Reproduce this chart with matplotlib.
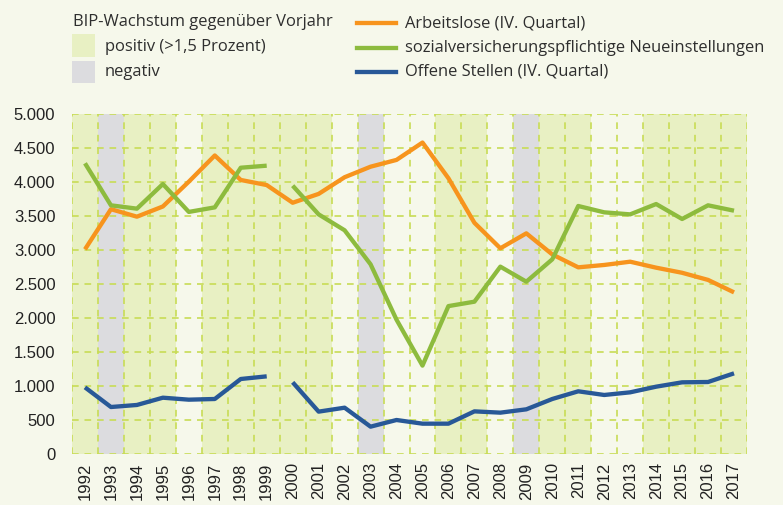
import numpy as np
import matplotlib
matplotlib.use("Agg")
import matplotlib.pyplot as plt
from matplotlib.patches import Rectangle
from matplotlib.lines import Line2D

years = list(range(1992, 2018))
# GDP growth classification: 'p' positive (>1.5%), 'n' negative, '' other
bip = ['p', 'n', 'p', 'p', '', 'p', 'p', 'p', 'p', 'p', '', 'n', '', '',
       'p', 'p', '', 'n', 'p', 'p', '', '', 'p', 'p', 'p', 'p']

arbeitslose = [3010, 3600, 3490, 3640, 4005, 4390, 4030, 3955, 3695, 3825,
               4070, 4225, 4325, 4580, 4055, 3400, 3025, 3245, 2935, 2745,
               2780, 2828, 2740, 2665, 2560, 2377]
neueinst = [4275, 3657, 3608, 3970, 3560, 3627, 4210, 4240, 3946, 3524,
            3290, 2790, 1975, 1300, 2175, 2240, 2755, 2534, 2863, 3647,
            3554, 3524, 3676, 3456, 3657, 3578]
offene = [980, 691, 721, 828, 799, 809, 1103, 1142, 1054, 623,
          681, 402, 500, 446, 446, 627, 608, 657, 809, 922,
          868, 907, 990, 1054, 1059, 1186]

yticks = list(range(0, 5001, 500))
ytick_labels = [f"{v:,}".replace(",", ".") for v in yticks]

BG = '#f6f8eb'
POS = '#e8f0c3'
NEG = '#dcdcdf'
GRID = '#c8dc55'
ORANGE = '#f7941d'
GREEN = '#8dbb3e'
BLUE = '#285897'

fig = plt.figure(figsize=(7.83, 5.05), dpi=100, facecolor=BG)
ax = fig.add_axes([72/783, 51/505, 675/783, 340/505])
ax.set_facecolor(BG)

for y, c in zip(years, bip):
    if c == 'p':
        ax.axvspan(y - 0.5, y + 0.5, color=POS, lw=0, zorder=0)
    elif c == 'n':
        ax.axvspan(y - 0.5, y + 0.5, color=NEG, lw=0, zorder=0)

for b in np.arange(years[0] - 0.5, years[-1] + 1.0, 1.0):
    ax.plot([b, b], [0, 5000], color=GRID, lw=1.2, ls=(0, (4, 3.5)), zorder=1)
for v in yticks:
    ax.plot([years[0] - 0.5, years[-1] + 0.5], [v, v], color=GRID, lw=1.2,
            ls=(0, (4, 3.5)), zorder=1)

yr = np.array(years)
def seg(vals, color, gap=True):
    vals = np.array(vals, dtype=float)
    if not gap:
        ax.plot(yr, vals, color=color, lw=3.1, zorder=3, solid_capstyle='butt')
        return
    m1 = yr <= 1999
    m2 = yr >= 2000
    ax.plot(yr[m1], vals[m1], color=color, lw=3.1, zorder=3, solid_capstyle='butt')
    ax.plot(yr[m2], vals[m2], color=color, lw=3.1, zorder=3, solid_capstyle='butt')

seg(arbeitslose, ORANGE, gap=False)
seg(neueinst, GREEN)
seg(offene, BLUE)

ax.set_xlim(years[0] - 0.5, years[-1] + 0.5)
ax.set_ylim(0, 5000)
ax.set_yticks(yticks)
ax.set_yticklabels(ytick_labels, fontsize=12, family='Liberation Sans', color='#222222')
ax.set_xticks(years)
ax.set_xticklabels([str(y) for y in years], rotation=90, fontsize=12,
                   family='Liberation Sans', color='#222222')
ax.tick_params(length=0, pad=6)
ax.tick_params(axis='y', pad=12)
for s in ax.spines.values():
    s.set_visible(False)

# legend
W, H = 783, 505
lf = dict(fontsize=11.9, family='Open Sans', color='#2e2e2e', va='center')
fig.text(73/W, 1 - 22/H, 'BIP-Wachstum gegenüber Vorjahr', **lf)
fig.patches.append(Rectangle((72/W, 1 - 57/H), 23/W, 23/H, transform=fig.transFigure,
                             facecolor=POS, edgecolor='none'))
fig.patches.append(Rectangle((72/W, 1 - 83/H), 23/W, 22/H, transform=fig.transFigure,
                             facecolor=NEG, edgecolor='none'))
fig.text(105/W, 1 - 47/H, 'positiv (>1,5 Prozent)', **lf)
fig.text(105/W, 1 - 72/H, 'negativ', **lf)

for yy, col, txt in [(23, ORANGE, 'Arbeitslose (IV. Quartal)'),
                     (48, GREEN, 'sozialversicherungspflichtige Neueinstellungen'),
                     (72, BLUE, 'Offene Stellen (IV. Quartal)')]:
    fig.lines.append(Line2D([357/W, 396/W], [1 - yy/H, 1 - yy/H], transform=fig.transFigure,
                            color=col, lw=3.1))
    fig.text(405/W, 1 - yy/H, txt, **lf)

fig.savefig('out.png', dpi=100, facecolor=BG)
